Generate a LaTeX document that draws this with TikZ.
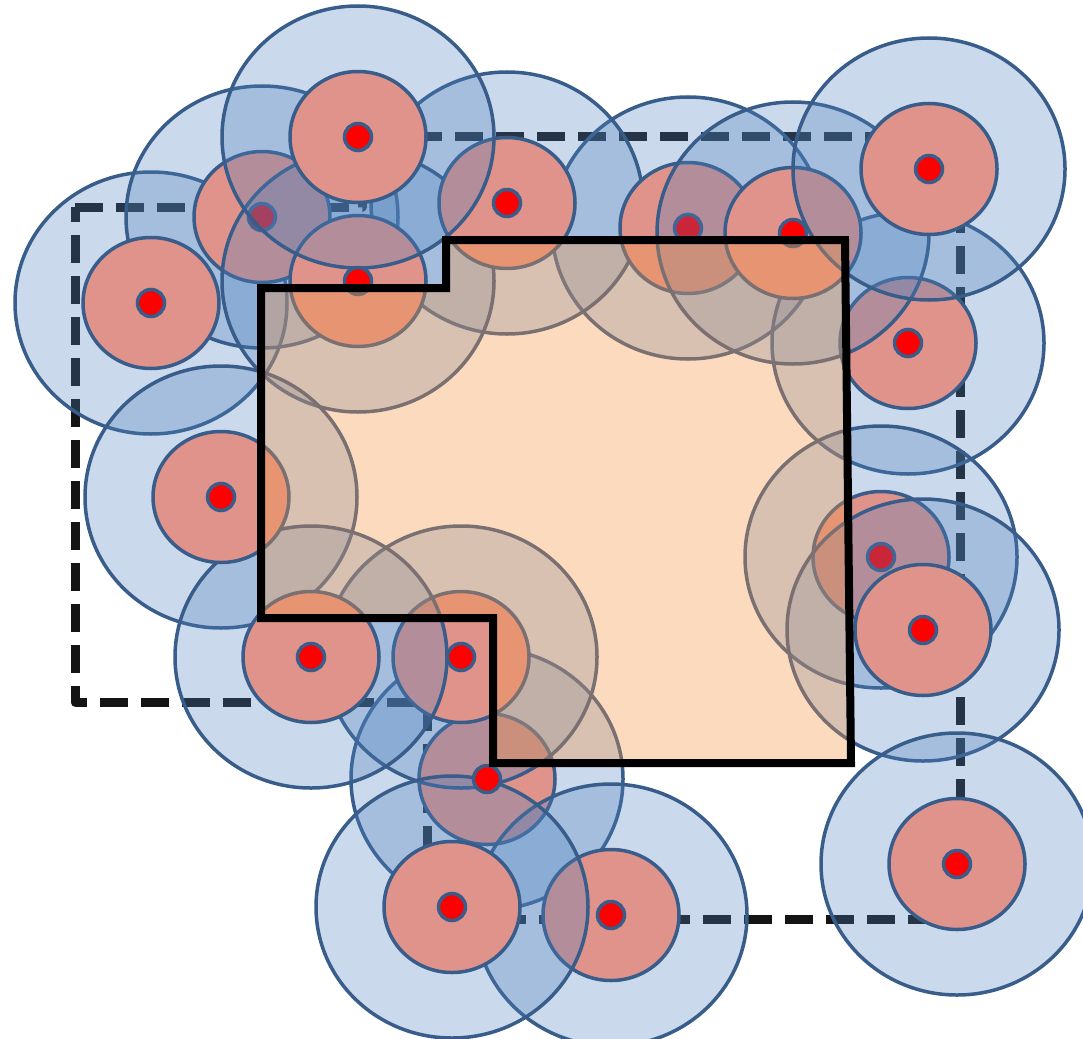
\documentclass[tikz,border=0pt]{standalone}
\definecolor{obl}{HTML}{4F81BD}
\definecolor{oedge}{HTML}{385D8A}
\definecolor{innerred}{HTML}{DF938B}
\definecolor{regorange}{HTML}{F79646}
\tikzset{
  outerring/.style={fill=obl, fill opacity=0.3, draw=oedge, draw opacity=1, line width=3.5pt},
  innerdisk/.style={fill=innerred, draw=oedge, line width=3.5pt},
  sensordot/.style={fill=red, draw=oedge, line width=3.5pt},
  boundary/.style={draw=black!92, line width=9pt, dash pattern=on 28pt off 13pt, line join=round},
  region/.style={fill=regorange, fill opacity=0.35},
  regionedge/.style={draw=black, line width=8pt, line join=miter}
}
\newcommand\OuterC[1]{\path[outerring] (#1) ellipse [x radius=136pt, y radius=131pt];}
\newcommand\InnerC[1]{\path[innerdisk] (#1) ellipse [x radius=68pt, y radius=65.5pt];}
\newcommand\DotC[1]{\path[sensordot] (#1) circle [radius=13.5pt];}
\begin{document}
\begin{tikzpicture}[x=1pt,y=-1pt]
\useasboundingbox (0,0) rectangle (1083,1038);
% sensor positions
\coordinate (s1) at (358,137);
\coordinate (s2) at (262,217);
\coordinate (s3) at (151,303);
\coordinate (s4) at (358,281);
\coordinate (s5) at (507,203);
\coordinate (s6) at (688,228);
\coordinate (s7) at (793,233);
\coordinate (s8) at (929,169);
\coordinate (s9) at (908,343);
\coordinate (s10) at (221,497);
\coordinate (s11) at (881,557);
\coordinate (s12) at (923,630);
\coordinate (s13) at (311,657);
\coordinate (s14) at (461,657);
\coordinate (s15) at (487,779);
\coordinate (s16) at (452,907);
\coordinate (s17) at (611,915);
\coordinate (s18) at (957,864);
% dashed boundary
\coordinate (b1) at (75,207);
\coordinate (b2) at (362,207);
\coordinate (b3) at (362,136);
\coordinate (b4) at (960,136);
\coordinate (b5) at (960,919);
\coordinate (b6) at (427,919);
\coordinate (b7) at (427,702);
\coordinate (b8) at (75,702);
\path[boundary] (b1) -- (b2) -- (b3) -- (b4) -- (b5) -- (b6) -- (b7) -- (b8) -- cycle;
% sensors, top-left cluster
\OuterC{s3}\OuterC{s2}\OuterC{s6}\OuterC{s5}
\InnerC{s3}\InnerC{s2}\DotC{s2}
\OuterC{s4}\InnerC{s4}\InnerC{s5}
\OuterC{s1}\InnerC{s1}
% top-right cluster
\InnerC{s6}\DotC{s6}
\OuterC{s9}\InnerC{s9}
\OuterC{s7}\InnerC{s7}
\OuterC{s8}\InnerC{s8}
% right middle
\OuterC{s11}\InnerC{s11}\DotC{s11}
\OuterC{s12}\InnerC{s12}
% bottom-left cluster
\OuterC{s10}\OuterC{s15}\InnerC{s15}
\OuterC{s14}\OuterC{s17}\InnerC{s17}
\OuterC{s16}\InnerC{s14}
\OuterC{s13}\InnerC{s10}\InnerC{s13}\InnerC{s16}
% bottom-right
\OuterC{s18}\InnerC{s18}
% remaining dots
\DotC{s1}\DotC{s3}\DotC{s4}\DotC{s5}\DotC{s7}\DotC{s8}\DotC{s9}
\DotC{s10}\DotC{s12}\DotC{s13}\DotC{s14}\DotC{s15}\DotC{s16}\DotC{s17}\DotC{s18}
% target region
\coordinate (r1) at (261,288);
\coordinate (r2) at (446,288);
\coordinate (r3) at (446,240);
\coordinate (r4) at (845,240);
\coordinate (r5) at (851,763);
\coordinate (r6) at (493,763);
\coordinate (r7) at (493,618);
\coordinate (r8) at (261,618);
\path[region] (r1) -- (r2) -- (r3) -- (r4) -- (r5) -- (r6) -- (r7) -- (r8) -- cycle;
\path[regionedge] (r1) -- (r2) -- (r3) -- (r4) -- (r5) -- (r6) -- (r7) -- (r8) -- cycle;
\end{tikzpicture}
\end{document}
